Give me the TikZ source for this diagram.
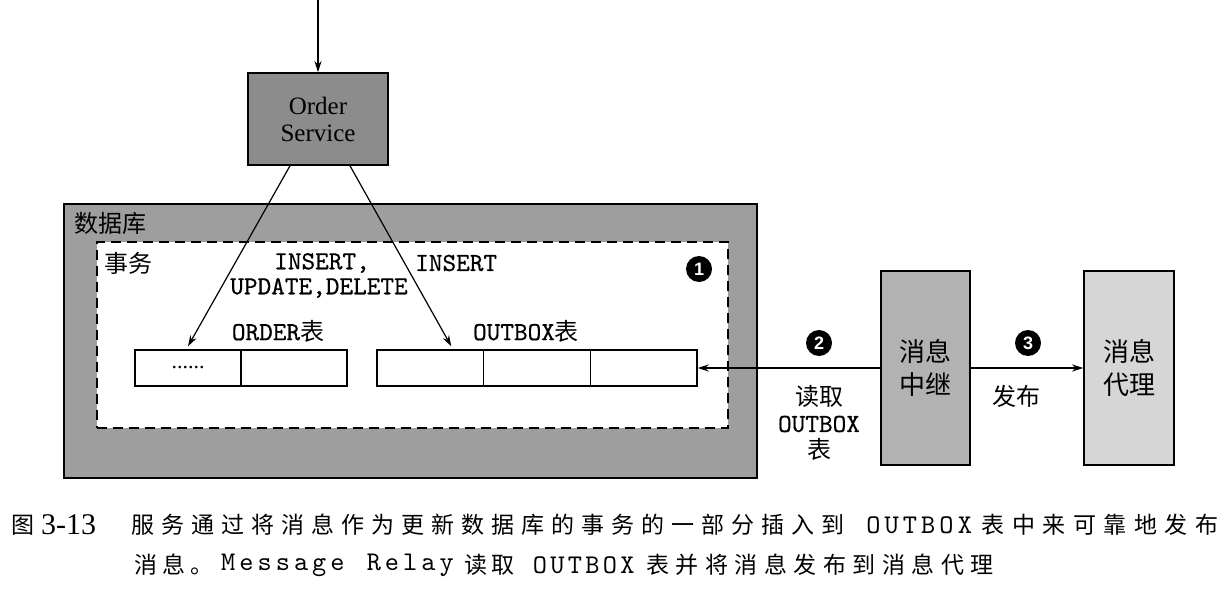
\documentclass[tikz,border=0pt]{standalone}
\usepackage{fontspec}
\setmainfont{Liberation Serif}
\newfontfamily\cjk{Noto Sans CJK SC}
\newfontfamily\numf{Liberation Sans}
\newfontfamily\cmono[FakeBold=0.6]{lmmono10-regular.otf}
\newfontfamily\capmono{lmmono10-regular.otf}
\usetikzlibrary{arrows.meta}
\ExplSyntaxOn
\NewDocumentCommand\spacedrun{mm}{\tl_map_inline:nn{#2}{\makebox[#1][c]{##1}}}
\ExplSyntaxOff
\definecolor{osgray}{gray}{0.55}
\definecolor{dbgray}{gray}{0.62}
\definecolor{relaygray}{gray}{0.70}
\definecolor{brokergray}{gray}{0.84}
\tikzset{
  box/.style={draw=black, line width=1.6pt, inner sep=0pt},
  cell/.style={draw=black, line width=1.4pt, fill=white, inner sep=0pt, minimum height=36pt},
  arr/.style={line width=1.2pt, -{Stealth[length=11pt,width=7pt]}},
  cjklab/.style={inner sep=0pt, font=\cjk\fontsize{24}{28}\selectfont},
  monolab/.style={inner sep=0pt, font=\cmono\fontsize{26}{30}\selectfont},
  num/.style={circle, fill=black, text=white, inner sep=0pt, minimum size=26pt, font=\numf\bfseries\fontsize{18}{18}\selectfont},
  capbase/.style={inner sep=0pt, anchor=west},
  capcjk/.style={capbase, font=\cjk\fontsize{23}{23}\selectfont},
  capmonof/.style={capbase, font=\capmono\fontsize{27}{27}\selectfont}
}
\begin{document}
\begin{tikzpicture}[x=1pt,y=-1pt]
\useasboundingbox (0,0) rectangle (1231,599);

% Order Service
\node[box, fill=osgray, minimum width=140pt, minimum height=92pt, align=center,
      font=\fontsize{25}{27}\selectfont] (os) at (318,119) {Order\\Service};
\coordinate (in) at (318,0);
\draw[arr] (in) -- (os.north);

% Database
\node[box, fill=dbgray, line width=1.8pt, minimum width=693pt, minimum height=274pt] (db) at (410.5,341) {};
\node[cjklab, anchor=west] (dblab) at (74,223) {数据库};

% Transaction (dashed)
\node[draw=black, fill=white, line width=2pt, dash pattern=on 10pt off 6pt, inner sep=0pt,
      minimum width=631pt, minimum height=186pt] (tx) at (412.5,335) {};
\node[cjklab, anchor=west] (txlab) at (104,263) {事务};

\node[monolab] (ins1) at (322,263) {INSERT,};
\node[monolab] (upd) at (319,288) {UPDATE,DELETE};
\node[monolab, anchor=west] (ins2) at (415,263) {INSERT};
\node[num] (n1) at (699,269) {1};

% Tables
\node[inner sep=0pt] (ordlab) at (278,331) {\cmono\fontsize{26}{30}\selectfont ORDER\cjk\fontsize{24}{28}\selectfont 表};
\node[inner sep=0pt] (obxlab) at (526,331) {\cmono\fontsize{26}{30}\selectfont OUTBOX\cjk\fontsize{24}{28}\selectfont 表};

\node[cell, minimum width=106pt, font=\fontsize{22}{22}\selectfont] (ot1) at (188,368) {......};
\node[cell, minimum width=106pt] (ot2) at (294,368) {};
\node[cell, minimum width=106.7pt] (ob1) at (430.3,368) {};
\node[cell, minimum width=106.7pt] (ob2) at (537,368) {};
\node[cell, minimum width=106.7pt] (ob3) at (643.7,368) {};

\draw[arr] ([xshift=-28pt]os.south) -- ([yshift=3pt]ot1.north);
\draw[arr] ([xshift=32pt]os.south) -- ([xshift=21pt,yshift=3pt]ob1.north);

% Relay and broker
\node[box, fill=relaygray, minimum width=89pt, minimum height=194pt, align=center,
      font=\cjk\fontsize{26}{33}\selectfont] (relay) at (925.5,368) {消息\\中继};
\node[box, fill=brokergray, minimum width=90pt, minimum height=194pt, align=center,
      font=\cjk\fontsize{26}{33}\selectfont] (broker) at (1129,368) {消息\\代理};

\draw[arr] (relay.west) -- (ob3.east);
\draw[arr] (relay.east) -- (broker.west);

\node[num] (n2) at (819,343) {2};
\node[cjklab] (rd1) at (819,396) {读取};
\node[monolab] (rd2) at (819,424) {OUTBOX};
\node[cjklab] (rd3) at (819,449) {表};

\node[num] (n3) at (1028,343) {3};
\node[cjklab] (pub) at (1016,396) {发布};

% Caption
\node[capcjk] (c0) at (11,525) {图};
\node[capbase, font=\fontsize{30}{30}\selectfont] (c1) at (41,525) {3-13};
\node[capcjk] (c2) at (128,525) {\spacedrun{30pt}{服务通过将消息作为更新数据库的事务的一部分插入到}};
\node[capmonof] (c3) at (864,525) {\spacedrun{18.3pt}{OUTBOX}};
\node[capcjk] (c4) at (978,525) {\spacedrun{30.5pt}{表中来可靠地发布}};

\node[capcjk] (d0) at (132,565) {\spacedrun{28pt}{消息。}};
\node[capmonof] (d1) at (219,565) {\spacedrun{18.2pt}{Message{~}Relay}};
\node[capcjk] (d2) at (462,565) {\spacedrun{27pt}{读取}};
\node[capmonof] (d3) at (531,565) {\spacedrun{17.5pt}{OUTBOX}};
\node[capcjk] (d4) at (643,565) {\spacedrun{29.5pt}{表并将消息发布到消息代理}};
\end{tikzpicture}
\end{document}
